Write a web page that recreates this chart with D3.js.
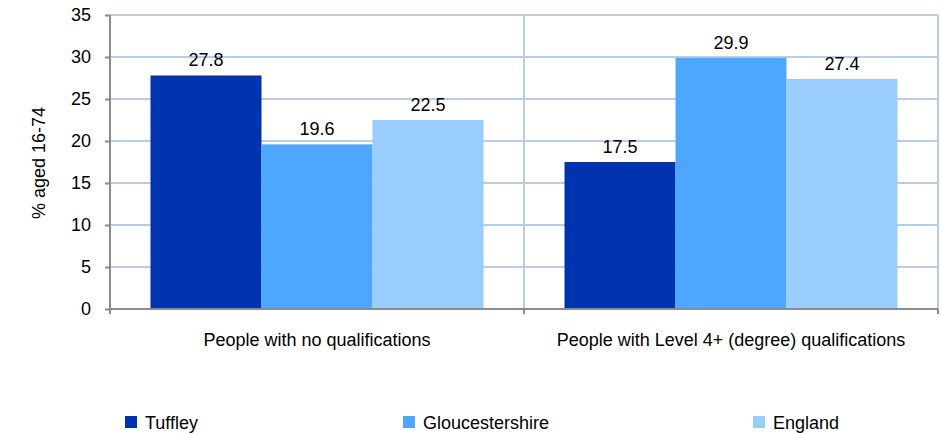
<!DOCTYPE html>
<html><head><meta charset="utf-8">
<script src="https://cdn.jsdelivr.net/npm/d3@7"></script>
<style>body{margin:0;background:#fff;} text{font-family:"Liberation Sans",Arial,sans-serif;}</style>
</head><body>
<svg id="c" width="941" height="434"></svg>
<script>
const categories = ["People with no qualifications", "People with Level 4+ (degree) qualifications"];
const seriesNames = ["Tuffley", "Gloucestershire", "England"];
const tuffley = [27.8, 17.5];
const gloucestershire = [19.6, 29.9];
const england = [22.5, 27.4];
const yTicks = [0, 5, 10, 15, 20, 25, 30, 35];
const colors = ["#0033b0", "#4da6ff", "#99ccff"];
const seriesValues = [tuffley, gloucestershire, england];

const FS = 18;
const svg = d3.select("#c");
const m = {left: 110, right: 938, top: 15, bottom: 309};
const x0 = d3.scaleBand().domain(categories).range([m.left, m.right]).paddingInner(0).paddingOuter(0);
const x1 = d3.scaleBand().domain(seriesNames).range([0, x0.bandwidth()]).paddingOuter(0.365).paddingInner(0);
const y = d3.scaleLinear().domain([0, 35]).range([m.bottom, m.top]);

// gridlines
svg.append("g").selectAll("line").data(yTicks.filter(d => d > 0)).join("line")
  .attr("x1", m.left).attr("x2", m.right)
  .attr("y1", d => y(d)).attr("y2", d => y(d))
  .attr("stroke", "#b9cde5").attr("stroke-width", 2);
// category separators & right border
svg.append("g").selectAll("line").data(categories.slice(1).map(c => x0(c)).concat([m.right])).join("line")
  .attr("x1", d => d).attr("x2", d => d).attr("y1", m.top).attr("y2", m.bottom)
  .attr("stroke", "#b9cde5").attr("stroke-width", 2);

// bars
seriesNames.forEach((s, si) => {
  svg.append("g").selectAll("rect").data(categories).join("rect")
    .attr("x", c => x0(c) + x1(s))
    .attr("width", x1.bandwidth())
    .attr("y", (c, i) => y(seriesValues[si][i]))
    .attr("height", (c, i) => y(0) - y(seriesValues[si][i]))
    .attr("fill", colors[si]);
  svg.append("g").selectAll("text").data(categories).join("text")
    .attr("x", c => x0(c) + x1(s) + x1.bandwidth() / 2)
    .attr("y", (c, i) => y(seriesValues[si][i]) - 9)
    .attr("text-anchor", "middle").attr("font-size", FS).attr("fill", "#000")
    .text((c, i) => seriesValues[si][i].toFixed(1));
});

// y axis
const yAxis = svg.append("g").attr("transform", `translate(${m.left},0)`)
  .call(d3.axisLeft(y).tickValues(yTicks).tickSize(5).tickPadding(14).tickFormat(d3.format("d")));
yAxis.select(".domain").attr("stroke", "#8c8c8c").attr("stroke-width", 2).attr("d", `M0,${m.top}V${m.bottom}`);
yAxis.selectAll(".tick line").attr("stroke", "#8c8c8c").attr("stroke-width", 2);
yAxis.selectAll(".tick text").attr("font-size", FS).attr("fill", "#000").attr("font-family", '"Liberation Sans",Arial,sans-serif');

// x axis
const xAxis = svg.append("g").attr("transform", `translate(0,${m.bottom})`)
  .call(d3.axisBottom(x0).tickSize(0).tickPadding(24));
xAxis.select(".domain").attr("stroke", "#8c8c8c").attr("stroke-width", 2).attr("d", `M${m.left},0H${m.right}`);
xAxis.selectAll(".tick text").attr("font-size", FS).attr("fill", "#000").attr("font-family", '"Liberation Sans",Arial,sans-serif');
svg.append("g").selectAll("line").data([m.left].concat(categories.slice(1).map(c => x0(c))).concat([m.right])).join("line")
  .attr("x1", d => d).attr("x2", d => d).attr("y1", m.bottom).attr("y2", m.bottom + 5)
  .attr("stroke", "#8c8c8c").attr("stroke-width", 2);

// y title
svg.append("text").attr("transform", "translate(45,163) rotate(-90)")
  .attr("text-anchor", "middle").attr("font-size", FS).attr("fill", "#000").text("% aged 16-74");

// legend
const legX = [125, 403, 753];
const leg = svg.append("g").selectAll("g").data(seriesNames).join("g")
  .attr("transform", (d, i) => `translate(${legX[i]},416)`);
leg.append("rect").attr("width", 12).attr("height", 12).attr("fill", (d, i) => colors[i]);
leg.append("text").attr("x", 20).attr("y", 13).attr("font-size", FS).attr("fill", "#000").text(d => d);
</script>
</body></html>
